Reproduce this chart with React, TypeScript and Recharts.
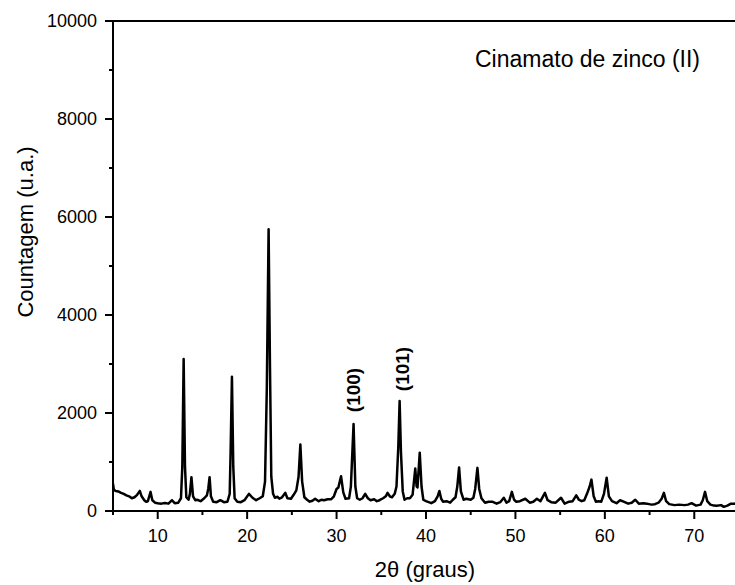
import {LineChart, Line, XAxis, YAxis, ReferenceLine} from "recharts";

const twoTheta = [
    5.0, 5.1, 5.3, 5.6, 5.9, 6.2, 6.5, 6.8, 7.1, 7.4, 7.7, 8.0, 8.2, 8.5, 8.7, 8.9, 9.2, 9.4, 9.7, 10.0,
    10.4, 10.8, 11.2, 11.6, 11.9, 12.3, 12.6, 12.75, 12.9, 13.05, 13.2, 13.45, 13.6, 13.77, 13.95, 14.2, 14.4, 14.8, 15.2, 15.5,
    15.65, 15.8, 15.95, 16.2, 16.6, 17.0, 17.4, 17.8, 18.05, 18.15, 18.3, 18.45, 18.6, 18.9, 19.3, 19.7, 20.2, 20.6, 21.0, 21.4,
    21.75, 22.0, 22.2, 22.4, 22.55, 22.7, 22.9, 23.1, 23.4, 23.6, 23.9, 24.27, 24.5, 24.9, 25.2, 25.5, 25.75, 25.95, 26.15, 26.4,
    26.7, 27.0, 27.3, 27.6, 28.0, 28.3, 28.6, 29.0, 29.4, 29.7, 30.0, 30.2, 30.5, 30.75, 31.0, 31.4, 31.6, 31.9, 32.1, 32.3,
    32.6, 32.9, 33.2, 33.5, 33.8, 34.2, 34.5, 34.8, 35.2, 35.5, 35.7, 35.95, 36.2, 36.5, 36.7, 36.9, 37.05, 37.2, 37.4, 37.6,
    37.9, 38.2, 38.5, 38.8, 38.95, 39.05, 39.3, 39.5, 39.7, 40.0, 40.3, 40.6, 41.0, 41.3, 41.5, 41.7, 41.9, 42.3, 42.7, 43.0,
    43.3, 43.5, 43.7, 43.9, 44.2, 44.5, 45.0, 45.3, 45.5, 45.75, 45.95, 46.2, 46.6, 47.0, 47.4, 47.9, 48.3, 48.7, 49.0, 49.3,
    49.6, 49.85, 50.1, 50.5, 51.1, 51.6, 52.0, 52.4, 52.8, 53.3, 53.6, 54.0, 54.5, 55.1, 55.5, 56.0, 56.4, 56.8, 57.1, 57.4,
    57.7, 58.0, 58.3, 58.5, 58.75, 59.0, 59.3, 59.6, 59.9, 60.2, 60.45, 60.8, 61.3, 61.7, 62.1, 62.6, 63.0, 63.4, 63.8, 64.3,
    64.7, 65.2, 65.6, 66.0, 66.35, 66.6, 66.85, 67.2, 67.8, 68.3, 68.9, 69.3, 69.7, 70.2, 70.7, 70.95, 71.2, 71.45, 71.8, 72.2,
    72.5, 73.0, 73.3, 73.7, 74.1, 74.5, 75.0,
];

const counts = [
    560, 430, 410, 400, 370, 350, 320, 300, 260, 280, 330, 410, 300, 220, 190, 200, 390, 220, 170, 160,
    150, 165, 150, 220, 160, 170, 260, 900, 3100, 900, 280, 230, 350, 690, 300, 220, 230, 200, 260, 320,
    450, 690, 300, 190, 180, 220, 180, 190, 350, 1200, 2740, 900, 260, 190, 180, 220, 350, 270, 220, 260,
    300, 600, 2500, 5750, 3000, 700, 350, 270, 290, 250, 280, 370, 260, 250, 330, 420, 700, 1355, 600, 280,
    230, 190, 210, 250, 200, 230, 220, 240, 240, 300, 450, 480, 710, 380, 250, 260, 500, 1776, 500, 260,
    230, 260, 350, 260, 220, 240, 200, 220, 260, 300, 370, 300, 280, 350, 500, 1300, 2245, 1200, 400, 230,
    260, 260, 330, 865, 500, 480, 1190, 500, 230, 200, 180, 160, 200, 300, 410, 250, 190, 200, 170, 230,
    280, 500, 890, 400, 230, 250, 230, 270, 450, 880, 450, 260, 170, 190, 190, 150, 180, 270, 170, 200,
    390, 230, 190, 200, 250, 170, 190, 250, 200, 370, 220, 180, 170, 270, 150, 190, 200, 320, 230, 200,
    220, 350, 500, 640, 300, 190, 200, 190, 350, 680, 300, 200, 160, 220, 190, 150, 170, 230, 150, 160,
    150, 130, 140, 170, 250, 370, 200, 140, 120, 130, 120, 130, 160, 110, 130, 220, 390, 200, 130, 110,
    105, 120, 85, 110, 150, 150, 160,
];

const xTicks = [5, 10, 15, 20, 25, 30, 35, 40, 45, 50, 55, 60, 65, 70, 75];
const yTicks = [0, 1000, 2000, 3000, 4000, 5000, 6000, 7000, 8000, 9000, 10000];

const data = twoTheta.map((t, i) => ({t, c: counts[i]}));

const font = "'Liberation Sans', Arial, sans-serif";

const XTick = ({x, y, payload}: any) => {
    const major = payload.value % 10 === 0;
    return (
        <g>
            <line x1={x} y1={y} x2={x} y2={y + (major ? 8 : 4)} stroke="#000" strokeWidth={2}/>
            {major && (
                <text x={x} y={y + 31} textAnchor="middle" fontSize={18} fontFamily={font} fill="#000">
                    {payload.value}
                </text>
            )}
        </g>
    );
};

const YTick = ({x, y, payload}: any) => {
    const major = payload.value % 2000 === 0;
    return (
        <g>
            <line x1={x} y1={y} x2={x - (major ? 8 : 4)} y2={y} stroke="#000" strokeWidth={2}/>
            {major && (
                <text x={x - 16} y={y} dy="0.35em" textAnchor="end" fontSize={18} fontFamily={font} fill="#000">
                    {payload.value}
                </text>
            )}
        </g>
    );
};

const App = () => {
    return (
        <div style={{position: "absolute", left: 0, top: 0, width: 735, height: 585, overflow: "hidden", background: "#fff"}}>
            <LineChart
                width={760}
                height={585}
                data={data}
                margin={{top: 21, right: 21, left: 0, bottom: 0}}
            >
                <XAxis
                    dataKey="t"
                    type="number"
                    domain={[5, 75]}
                    ticks={xTicks}
                    interval={0}
                    height={74}
                    tickSize={0}
                    tickMargin={0}
                    tickLine={false}
                    axisLine={{stroke: "#000", strokeWidth: 2}}
                    tick={<XTick/>}
                    allowDataOverflow
                />
                <YAxis
                    type="number"
                    domain={[0, 10000]}
                    ticks={yTicks}
                    interval={0}
                    width={113}
                    tickSize={0}
                    tickMargin={0}
                    tickLine={false}
                    axisLine={{stroke: "#000", strokeWidth: 2}}
                    tick={<YTick/>}
                />
                <ReferenceLine y={10000} stroke="#000" strokeWidth={2}/>
                <Line
                    dataKey="c"
                    type="linear"
                    stroke="#000"
                    strokeWidth={2.5}
                    strokeLinejoin="round"
                    dot={false}
                    isAnimationActive={false}
                />
            </LineChart>
            <svg width={735} height={585} style={{position: "absolute", left: 0, top: 0, pointerEvents: "none"}}>
                <text x={475} y={67} fontSize={23} fontFamily={font} fill="#000">Cinamato de zinco (II)</text>
                <text x={425} y={577} textAnchor="middle" fontSize={22} fontFamily={font} fill="#000">2θ (graus)</text>
                <text x={33} y={232} transform="rotate(-90 33 232)" textAnchor="middle" fontSize={22} fontFamily={font} fill="#000">
                    Countagem (u.a.)
                </text>
                <text x={353} y={390} transform="rotate(-90 353 390)" textAnchor="middle" dominantBaseline="central"
                      fontSize={19} fontWeight="bold" fontFamily={font} fill="#000">(100)</text>
                <text x={402} y={369} transform="rotate(-90 402 369)" textAnchor="middle" dominantBaseline="central"
                      fontSize={19} fontWeight="bold" fontFamily={font} fill="#000">(101)</text>
            </svg>
        </div>
    );
};

export default App;
